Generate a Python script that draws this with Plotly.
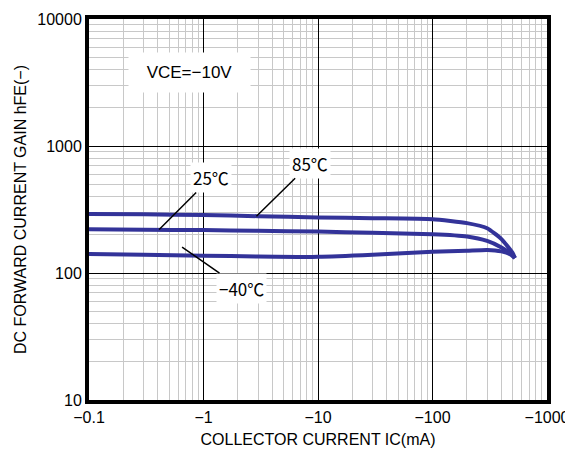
import math
import plotly.graph_objects as go

# collector current magnitude (mA) and hFE
ic_85 = [0.1, 0.3, 1, 3, 10, 30, 100, 200, 300, 400, 500, 525]
hfe_85 = [292, 290, 286, 280, 274, 270, 265, 247, 225, 185, 144, 131]

ic_25 = [0.1, 0.3, 1, 3, 10, 30, 100, 200, 300, 400, 500, 525]
hfe_25 = [221, 219, 218, 215, 212, 207, 202, 194, 179, 159, 138, 131]

ic_m40 = [0.1, 0.3, 1, 3, 10, 30, 100, 200, 300, 400, 480, 525]
hfe_m40 = [141, 139, 137, 135, 134, 139, 147, 150, 152, 148, 140, 131]

x_ticks = [0.1, 1, 10, 100, 1000]
x_labels = ["−0.1", "−1", "−10", "−100", "−1000"]
y_ticks = [10, 100, 1000, 10000]
y_labels = ["10", "100", "1000", "10000"]

line_color = "#333399"
font = "Liberation Sans, Noto Sans CJK JP, sans-serif"

fig = go.Figure()
for xs, ys in [(ic_85, hfe_85), (ic_25, hfe_25), (ic_m40, hfe_m40)]:
    fig.add_trace(go.Scatter(x=xs, y=ys, mode="lines", line=dict(color=line_color, width=4, shape="spline", smoothing=0.5),
                             showlegend=False, hoverinfo="skip"))

axis_common = dict(
    type="log", showline=True, linecolor="black", linewidth=4, mirror=True, automargin=False,
    showgrid=True, gridcolor="black", gridwidth=1, ticks="", zeroline=False,
    tickfont=dict(family=font, size=16, color="black"),
    minor=dict(dtick="D1", showgrid=True, gridcolor="#c8c8c8", gridwidth=1, ticks=""),
)

fig.update_xaxes(**axis_common, range=[-1, 3], tickvals=x_ticks, ticktext=x_labels,
                 title=dict(text="COLLECTOR CURRENT IC(mA)", font=dict(family=font, size=16, color="black"), standoff=10))
fig.update_yaxes(**axis_common, range=[1, 4], tickvals=y_ticks, ticktext=y_labels,
                 title=dict(text="DC FORWARD CURRENT GAIN hFE(−)", font=dict(family=font, size=16, color="black"), standoff=8))

fig.add_annotation(x=-0.12, y=3.58, xref="x", yref="y", text="VCE=−10V", showarrow=False,
                   font=dict(family=font, size=17, color="black"), bgcolor="white", borderpad=10, width=101, height=19)

labels = [
    ("85℃", 2.9, 280, 54, -53),
    ("25℃", 0.41, 220, 52, -52),
    ("−40℃", 0.65, 160, 59, 41),
]
for text, xv, yv, ax, ay in labels:
    fig.add_annotation(x=math.log10(xv), y=math.log10(yv), xref="x", yref="y", text=text, showarrow=True, arrowhead=0,
                       arrowwidth=1.5, arrowcolor="black", ax=ax, ay=ay,
                       font=dict(family="Noto Sans CJK JP, sans-serif", size=17, color="black"),
                       bgcolor="white", borderpad=2)

# the page puts the figure 8px in from the corner, so the figure is 8px smaller
fig.update_layout(
    width=565, height=451, margin=dict(l=81, r=26, t=11, b=59),
    plot_bgcolor="white", paper_bgcolor="white",
)

fig.write_html("out.html")
